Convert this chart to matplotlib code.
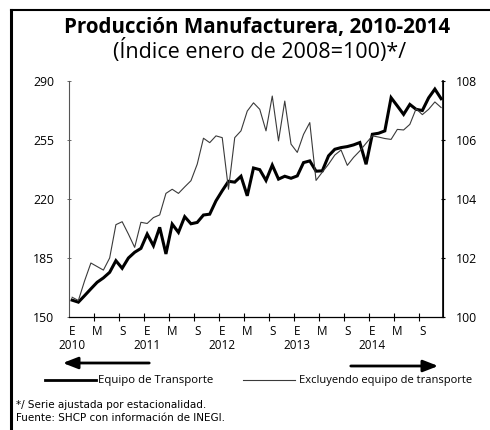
import numpy as np
import matplotlib.pyplot as plt
from matplotlib.lines import Line2D

# datos mensuales, enero 2010 - diciembre 2014
equipoTransporte = [
    160.0, 158.8, 162.7, 166.7, 170.6, 173.2, 176.5, 183.4, 178.9, 185.0, 188.4, 190.7,
    199.2, 192.3, 203.2, 187.4, 205.1, 200.2, 209.5, 205.3, 206.1, 210.5, 211.0, 218.9,
    224.9, 230.5, 230.0, 233.5, 221.9, 238.4, 237.4, 231.0, 240.1, 231.8, 233.5, 232.3,
    233.7, 241.6, 242.6, 236.5, 236.7, 245.6, 249.5, 250.5, 251.1, 252.1, 253.5, 240.6,
    258.4, 259.0, 260.4, 280.1, 275.2, 270.2, 276.1, 273.2, 272.5, 280.0, 285.2, 279.5,
]
excluyendoTransporte = [
    100.67, 100.56, 101.23, 101.83, 101.71, 101.59, 102.00, 103.13, 103.23, 102.81, 102.36, 103.21,
    103.17, 103.37, 103.46, 104.19, 104.33, 104.19, 104.41, 104.62, 105.18, 106.06, 105.91, 106.14,
    106.08, 104.33, 106.08, 106.31, 106.98, 107.26, 107.04, 106.31, 107.49, 105.97, 107.32, 105.86,
    105.58, 106.19, 106.59, 104.63, 104.91, 105.18, 105.49, 105.66, 105.14, 105.41, 105.63, 105.89,
    106.14, 106.10, 106.05, 106.02, 106.36, 106.34, 106.53, 107.06, 106.86, 107.04, 107.29, 107.10,
]
meses = ['E', 'M', 'S'] * 5
anios = ['2010', '2011', '2012', '2013', '2014']
ticksIzq = [150, 185, 220, 255, 290]
ticksDer = [100, 102, 104, 106, 108]

fuente = 'Open Sans'
W, H = 490, 430

fig = plt.figure(figsize = (W / 100, H / 100), dpi = 100)
ax = fig.add_axes([69 / W, 1 - 317 / H, (443 - 69) / W, (317 - 81) / H])
ax2 = ax.twinx()

x = np.arange(len(equipoTransporte))
ax.plot(x, equipoTransporte, color = 'black', lw = 2.2, solid_joinstyle = 'miter', zorder = 3)
ax2.plot(x, excluyendoTransporte, color = '#3a3a3a', lw = 0.8, zorder = 2)

ax.set_xlim(-0.5, 59.3)
ax.set_ylim(150, 290)
ax2.set_ylim(100, 108)

ax.set_xticks(np.arange(0, 60, 4))
labels = []
for i, m in enumerate(meses):
    if i % 3 == 0:
        labels.append(m + '\n' + anios[i // 3])
    else:
        labels.append(m + '\n')
ax.set_xticklabels(labels, fontsize = 8.5, family = fuente, linespacing = 1.05)
ax.set_xticks(np.arange(3.5, 59, 4), minor = True)
ax.tick_params(axis = 'x', which = 'major', length = 0, pad = 6)
ax.tick_params(axis = 'x', which = 'minor', length = 6, direction = 'inout', width = 0.8)

ax.set_yticks(ticksIzq)
ax.set_yticklabels([str(t) for t in ticksIzq], fontsize = 8.8, family = fuente)
ax.tick_params(axis = 'y', length = 3, direction = 'inout', width = 0.6, pad = 9, color = '#555555')
ax2.set_yticks(ticksDer)
ax2.set_yticklabels([str(t) for t in ticksDer], fontsize = 8.8, family = fuente)
ax2.tick_params(axis = 'y', length = 3, direction = 'inout', width = 0.8, pad = 8)

for a in (ax, ax2):
    a.spines['top'].set_visible(False)
ax.spines['left'].set_color('#555555')
ax.spines['left'].set_linewidth(0.8)
ax.spines['bottom'].set_linewidth(0.9)
ax2.spines['left'].set_visible(False)
ax2.spines['bottom'].set_visible(False)
ax2.spines['right'].set_linewidth(1.2)

# titulos
fig.text(257 / W, 1 - 27 / H, 'Producción Manufacturera, 2010-2014', ha = 'center', va = 'center',
         fontsize = 14.8, fontweight = 'bold', family = fuente)
fig.text(260 / W, 1 - 51 / H, '(Índice enero de 2008=100)*/', ha = 'center', va = 'center',
         fontsize = 15.5, family = fuente)

# flechas
ax.annotate('', xy = (60 / W, 1 - 363 / H), xytext = (152 / W, 1 - 363 / H), xycoords = 'figure fraction',
            arrowprops = dict(arrowstyle = '-|>,head_length=0.9,head_width=0.35', color = 'black', lw = 2))
ax.annotate('', xy = (441 / W, 1 - 366 / H), xytext = (348 / W, 1 - 366 / H), xycoords = 'figure fraction',
            arrowprops = dict(arrowstyle = '-|>,head_length=0.9,head_width=0.35', color = 'black', lw = 2))

# leyenda
fig.add_artist(Line2D([45 / W, 96 / W], [1 - 380 / H] * 2, color = 'black', lw = 2))
fig.text(98 / W, 1 - 380 / H, 'Equipo de Transporte', ha = 'left', va = 'center', fontsize = 8.2, family = fuente)
fig.add_artist(Line2D([243 / W, 295 / W], [1 - 380 / H] * 2, color = '#3a3a3a', lw = 0.8))
fig.text(299 / W, 1 - 380 / H, 'Excluyendo equipo de transporte', ha = 'left', va = 'center', fontsize = 8.0, family = fuente)

# notas
fig.text(16 / W, 1 - 405 / H, '*/ Serie ajustada por estacionalidad.', ha = 'left', va = 'center', fontsize = 7.5,
         family = ['Liberation Sans Narrow', 'DejaVu Sans'])
fig.text(16 / W, 1 - 418 / H, 'Fuente: SHCP con información de INEGI.', ha = 'left', va = 'center', fontsize = 7.5,
         family = ['Liberation Sans Narrow', 'DejaVu Sans'])

# marco
fig.add_artist(Line2D([11 / W, 11 / W], [0, 1 - 10 / H], color = 'black', lw = 2.2))
fig.add_artist(Line2D([11 / W, 1], [1 - 10 / H] * 2, color = 'black', lw = 1.5))

fig.savefig('out.png', dpi = 100)
